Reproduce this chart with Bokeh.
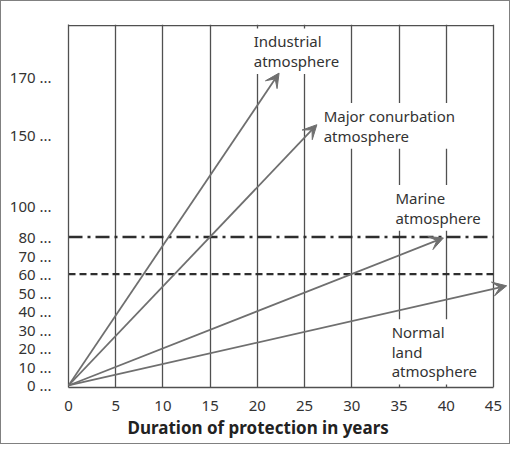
import numpy as np
from bokeh.plotting import figure
from bokeh.models import ColumnDataSource, FixedTicker, Arrow, VeeHead, Title, Range1d
from bokeh.core.properties import value
from bokeh.embed import file_html
from bokeh.resources import INLINE

# ---------------- data ----------------
x_ticks = [0, 5, 10, 15, 20, 25, 30, 35, 40, 45]
y_tick_values = [0, 10, 20, 30, 40, 50, 60, 70, 80, 100, 150, 170]
y_tick_labels = [f"{v} ..." for v in y_tick_values]
# the schematic value axis is not linear: where each labelled value sits
y_tick_positions = [0, 10, 20, 30, 40, 50, 60, 70, 80, 96.8, 135.1, 166.0]

series = ["Industrial\natmosphere", "Major conurbation\natmosphere",
          "Marine\natmosphere", "Normal\nland\natmosphere"]
end_years = [22.3, 26.3, 39.7, 46.4]
end_values = [171.5, 153.5, 79.5, 53.7]

limit_values = [80, 60]
limit_dash = ["14 5 3 5", "7 4"]

# label anchors (axis units)
label_x = [19.3, 26.7, 34.3, 33.9]
label_y = [180.1, 139.9, 95.7, 18.1]


def to_pos(v):
    v = np.asarray(v, dtype=float)
    p = np.interp(v, y_tick_values, y_tick_positions)
    hi = v > y_tick_values[-1]
    slope = (y_tick_positions[-1] - y_tick_positions[-2]) / (y_tick_values[-1] - y_tick_values[-2])
    p[hi] = y_tick_positions[-1] + (v[hi] - y_tick_values[-1]) * slope
    return p


FONT = value("Noto Sans")
GRID = "#505050"
ARROW = "#6f6f6f"

p = figure(width=510, height=444, output_backend="svg", toolbar_location=None,
           x_range=Range1d(0, 46.7), y_range=Range1d(-1.08, 194.5),
           min_border_left=67, min_border_right=2, min_border_top=23, min_border_bottom=58)
p.styles = {"border": "1px solid #808080"}
p.outline_line_color = None
p.background_fill_color = "white"
p.border_fill_color = "white"

# grid (vertical lines incl. right border)
p.ygrid.grid_line_color = None
p.xgrid.ticker = FixedTicker(ticks=x_ticks[1:])
p.xgrid.grid_line_color = GRID
p.xgrid.grid_line_width = 1.3

# top border
p.segment(x0=[0], y0=[193.9], x1=[45], y1=[193.9], line_color=GRID, line_width=1.3)

# x axis
xa = p.xaxis[0]
xa.ticker = FixedTicker(ticks=x_ticks)
xa.bounds = (0, 45)
xa.axis_line_color = GRID
xa.axis_line_width = 1.3
xa.major_tick_line_color = None
xa.minor_tick_line_color = None
xa.major_label_standoff = 7
xa.major_label_text_font = "Noto Sans"
xa.major_label_text_font_size = "15px"
xa.major_label_text_color = "#333333"

# y axis
ya = p.yaxis[0]
ya.ticker = FixedTicker(ticks=y_tick_positions)
ya.major_label_overrides = {pos: lab for pos, lab in zip(y_tick_positions, y_tick_labels)}
ya.axis_line_color = GRID
ya.axis_line_width = 1.3
ya.major_tick_line_color = None
ya.minor_tick_line_color = None
ya.major_label_standoff = 11
ya.major_label_text_font = "Noto Sans"
ya.major_label_text_font_size = "15px"
ya.major_label_text_color = "#333333"

p.add_layout(Title(text="Duration of protection in years", align="left", offset=59,
                   text_font="Noto Sans", text_font_size="17px", text_font_style="bold",
                   text_color="#222222", standoff=0), "below")

# limit lines
lim_pos = to_pos(limit_values)
for yv, dash, w in zip(lim_pos, limit_dash, [2.6, 2.2]):
    p.line(x=[0, 45], y=[yv, yv], line_color="#2e2e2e", line_width=w, line_dash=dash)

# labels
lab_src = ColumnDataSource(dict(x=label_x, y=label_y, text=series))
p.text(x="x", y="y", text="text", source=lab_src, text_font=FONT, text_font_size="15px",
       text_align="left", text_baseline="middle", text_color="#333333", text_line_height=0.98,
       background_fill_color="white", padding=3)

# arrows
arr_src = ColumnDataSource(dict(x0=[0] * 4, y0=[0.0] * 4, x1=end_years, y1=list(to_pos(end_values))))
p.add_layout(Arrow(x_start="x0", y_start="y0", x_end="x1", y_end="y1", source=arr_src,
                   line_color=ARROW, line_width=1.8,
                   end=VeeHead(size=14, fill_color=ARROW, line_color=ARROW, line_width=1)))

open("out.html", "w").write(file_html(p, INLINE))
